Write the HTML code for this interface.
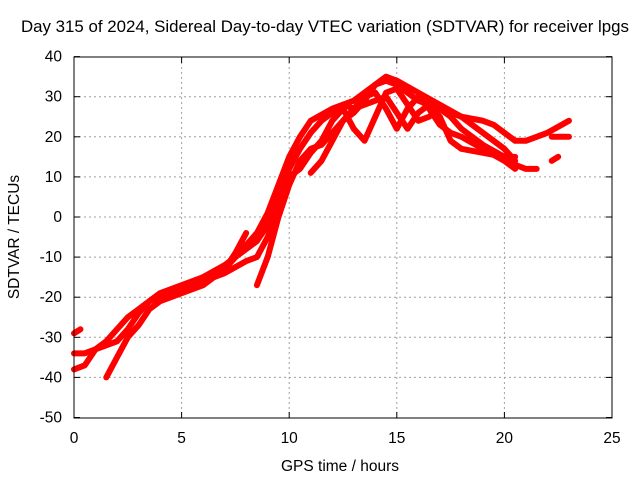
<!DOCTYPE html>
<html><head><meta charset="utf-8"><style>
body{margin:0;background:#fff}
svg{display:block;font-family:"Liberation Sans",sans-serif;font-size:15.5px}
</style></head><body>
<svg id="c" width="640" height="480">
<text x="325" y="32" text-anchor="middle" font-size="16.5" textLength="608" lengthAdjust="spacingAndGlyphs">Day 315 of 2024, Sidereal Day-to-day VTEC variation (SDTVAR) for receiver lpgs</text>
<text x="340" y="471" text-anchor="middle">GPS time / hours</text>
<text transform="translate(19,237) rotate(-90)" text-anchor="middle">SDTVAR / TECUs</text>
<g id="grid"></g><g id="ticks"></g><g id="series"></g>
<rect x="74" y="57" width="538" height="361" fill="none" stroke="#000"/>
</svg>
<script>
const xTicks=[0,5,10,15,20,25];
const yTicks=[40,30,20,10,0,-10,-20,-30,-40,-50];
const s1=[[0,-34],[0.5,-34],[1,-33],[1.5,-31],[2,-28],[2.5,-25],[3,-23],[3.5,-21],[4,-19],[5,-17],[6,-15],[7,-12],[8,-8],[8.5,-6],[9,-2],[9.5,4],[10,12],[10.5,17],[11,21],[11.5,24],[12,26],[12.5,28],[13,29],[13.5,31],[14,33],[14.5,34],[15,33],[15.5,31],[16,29],[17,27],[17.5,26],[18,25],[19,24],[19.5,23],[20,21],[20.5,19],[21,19],[22,21],[23,24]];
const s2=[[0,-38],[0.5,-37],[1,-33],[1.5,-32],[2,-31],[2.5,-28],[3,-24],[3.5,-21],[4,-20],[4.5,-19],[5,-18],[6,-16],[7,-14],[8,-11],[8.5,-10],[9,-5],[9.5,2],[10,10],[10.5,12],[11,16],[11.5,19],[12,24],[12.5,27],[13,22],[13.5,19],[14,25],[14.5,31],[15,32],[15.5,28],[16,24],[16.5,25],[17,27],[17.5,25],[18,22],[19,18],[20,15],[20.5,13],[21,12],[21.5,12]];
const s3=[[1.5,-40],[2,-35],[2.5,-30],[3,-27],[3.5,-23],[4,-21],[5,-19],[6,-17],[7,-13],[7.5,-10],[8,-7],[8.5,-4],[9,1],[9.5,8],[10,15],[10.5,20],[11,24],[12,27],[12.5,28],[13,27],[14,29],[14.5,30],[15,26],[15.5,22],[16,26],[16.5,28],[17,25],[17.5,19],[18,17],[19,16],[20,15],[20.5,15]];
const s4=[[8.5,-17],[9,-10],[9.5,0],[10,8],[10.5,14],[11,17],[11.5,18],[12,21],[12.5,24],[13,27],[13.5,30],[14,31],[14.5,27],[15,22],[15.5,27],[16,30],[16.5,27],[17,23],[17.5,21],[18,20],[19,17],[20,14],[20.5,12]];
const s5=[[11,11],[11.5,14],[12,19],[12.5,24],[13,26],[13.5,29],[14,33],[14.5,35],[15,34],[16,31],[17,28],[18,25],[19,21],[20,17],[20.5,14]];
const s6=[[0,-29],[0.3,-28]];
const s7=[[6,-15],[7,-13],[7.5,-9],[8,-4]];
const s8=[[22.2,20],[23,20]];
const s9=[[22.2,14],[22.5,15]];
const allSeries=[s1,s2,s3,s4,s5,s6,s7,s8,s9];
const X=v=>74+v*538/25, Y=v=>217-v*4.01;
const NS="http://www.w3.org/2000/svg";
const g=document.getElementById('grid'),t=document.getElementById('ticks'),S=document.getElementById('series');
function mk(tag,at,p){const e=document.createElementNS(NS,tag);for(const k in at)e.setAttribute(k,at[k]);p.appendChild(e);return e;}
xTicks.forEach(v=>{const x=X(v);
 if(v>0&&v<25){const l=mk('line',{x1:x,x2:x,y1:57,y2:418,stroke:'#a0a0a0','stroke-dasharray':'2,3'},g);
 
 }
 mk('line',{x1:x,x2:x,y1:418,y2:412,stroke:'#000'},t);mk('line',{x1:x,x2:x,y1:57,y2:63,stroke:'#000'},t);
 const tx=mk('text',{x:x,y:443,'text-anchor':'middle'},t);tx.textContent=v;
 
 });
yTicks.forEach(v=>{const y=Y(v);
 if(v>-50&&v<40){const l=mk('line',{x1:74,x2:612,y1:y,y2:y,stroke:'#a0a0a0','stroke-dasharray':'2,3'},g);
 
 }
 mk('line',{x1:74,x2:80,y1:y,y2:y,stroke:'#000'},t);mk('line',{x1:606,x2:612,y1:y,y2:y,stroke:'#000'},t);
 const tx=mk('text',{x:62,y:y+5,'text-anchor':'end'},t);tx.textContent=v;
 
 });
allSeries.forEach((s,i)=>{const p=mk('polyline',{points:s.map(d=>X(d[0])+','+Y(d[1])).join(' '),fill:'none',stroke:'#ff0000','stroke-width':6,'stroke-linejoin':'round','stroke-linecap':'round'},S);
 
 });
</script>
</body></html>
